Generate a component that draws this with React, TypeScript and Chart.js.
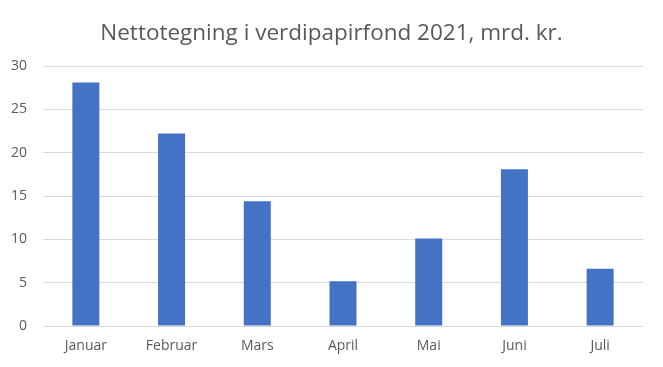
import React, { useEffect, useRef } from "react";
import { Chart, registerables } from "chart.js";

Chart.register(...registerables);

const categories = ["Januar", "Februar", "Mars", "April", "Mai", "Juni", "Juli"];
const values = [28.1, 22.2, 14.4, 5.15, 10.1, 18.1, 6.6];
const titleText = "Nettotegning i verdipapirfond 2021, mrd. kr.";

const FONT = "'Open Sans', Lato, sans-serif";

export default function App() {
  const ref = useRef<HTMLCanvasElement | null>(null);
  useEffect(() => {
    if (!ref.current) return;
    const chart = new Chart(ref.current, {
      type: "bar",
      data: {
        labels: categories,
        datasets: [
          {
            data: values,
            backgroundColor: "#4472c4",
            borderWidth: 0,
            categoryPercentage: 1,
            barPercentage: 0.315,
          },
        ],
      },
      options: {
        animation: false,
        responsive: false,
        layout: { padding: { left: 10, right: 10, top: 0, bottom: 0 } },
        plugins: {
          legend: { display: false },
          tooltip: { enabled: false },
          title: {
            display: true,
            text: titleText,
            color: "#595959",
            font: { family: FONT, size: 22.5, weight: "normal", lineHeight: 1.2 },
            padding: { top: 20, bottom: 19 },
          },
        },
        scales: {
          x: {
            grid: { display: false, drawTicks: false },
            border: { display: false },
            ticks: {
              color: "#595959",
              font: { family: FONT, size: 14 },
              padding: 12,
            },
            afterFit: (s: any) => {
              s.height = 41;
            },
          },
          y: {
            min: 0,
            max: 30,
            grid: { color: "#d9d9d9", drawTicks: false, lineWidth: 1 },
            border: { display: false },
            ticks: {
              stepSize: 5,
              color: "#595959",
              font: { family: FONT, size: 14 },
              padding: 16,
            },
            afterFit: (s: any) => {
              s.width = 33;
            },
          },
          yRight: {
            position: "right",
            display: true,
            min: 0,
            max: 30,
            grid: { display: false, drawTicks: false },
            border: { display: false },
            ticks: { display: false },
            afterFit: (s: any) => {
              s.width = 10;
            },
          },
        },
      },
    });
    return () => chart.destroy();
  }, []);
  return (
    <div style={{ position: "fixed", left: 0, top: 0, width: 663, height: 367, background: "#fff" }}>
      <canvas ref={ref} width={663} height={367} style={{ display: "block" }} />
    </div>
  );
}
